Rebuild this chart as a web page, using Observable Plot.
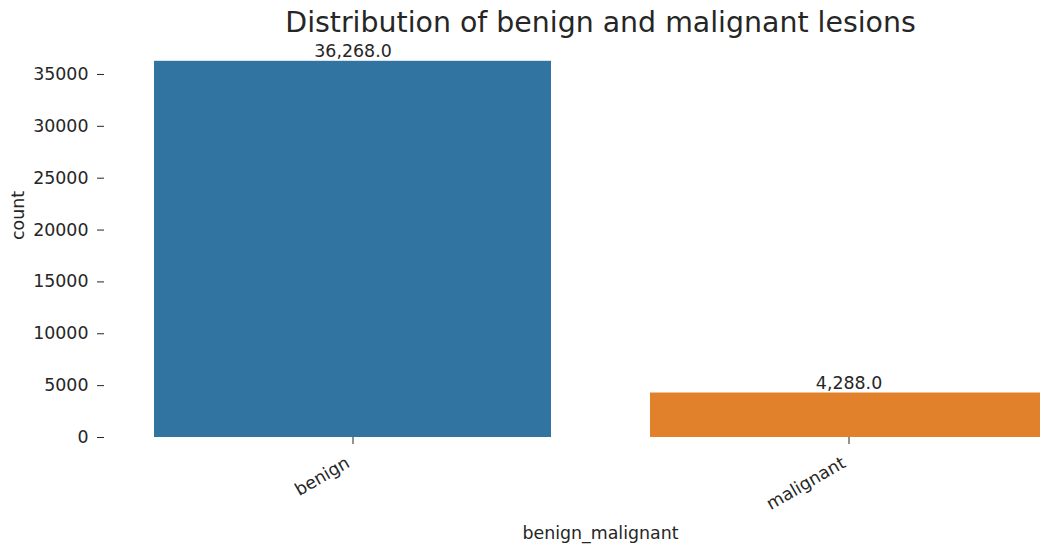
<!DOCTYPE html>
<html><head><meta charset="utf-8">
<script src="https://cdn.jsdelivr.net/npm/d3@7"></script>
<script src="https://cdn.jsdelivr.net/npm/@observablehq/plot@0.6"></script>
<style>body{margin:0;background:#fff}</style>
</head><body><div id="chart"></div>
<script>
const categories = ["benign", "malignant"];
const counts = [36268, 4288];
const yTicks = [0, 5000, 10000, 15000, 20000, 25000, 30000, 35000];
const titleText = "Distribution of benign and malignant lesions";
const xLabel = "benign_malignant";
const yLabel = "count";
const palette = ["#3274a1", "#e1812c"];

const data = categories.map((c, i) => ({category: c, count: counts[i]}));
const FS = 17.4;
const ink = "#262626";
const chart = Plot.plot({
  width: 1040, height: 547,
  marginTop: 42, marginBottom: 110, marginLeft: 104, marginRight: -56,
  style: {fontFamily: "DejaVu Sans", fontSize: FS + "px", color: ink, background: "#fff"},
  x: {domain: categories, paddingInner: 0.2, paddingOuter: 0.1, label: null},
  y: {domain: [0, d3.max(counts) * 1.05], label: null},
  color: {domain: categories, range: palette},
  marks: [
    Plot.barY(data, {x: "category", y: "count", fill: "category"}),
    Plot.text(data, {x: "category", y: "count", text: d => d3.format(",.1f")(d.count), lineAnchor: "bottom", dy: -4, fill: ink}),
    Plot.axisY({ticks: yTicks, tickFormat: d3.format("d"), tickSize: 7, tickPadding: 9, label: null}),
    Plot.axisX({tickSize: 7, tickFormat: () => "", label: null}),
    Plot.axisX({tickSize: 0, tickPadding: 24, tickRotate: -30, textAnchor: "end", lineAnchor: "middle", dx: -5, label: null}),
    Plot.text([titleText], {frameAnchor: "top", dy: -10.5, lineAnchor: "bottom", fontSize: 28.4, fill: ink}),
    Plot.text([yLabel], {frameAnchor: "left", dx: -86, rotate: -90, fill: ink}),
    Plot.text([xLabel], {frameAnchor: "bottom", dy: 101, lineAnchor: "bottom", fill: ink})
  ]
});
document.getElementById("chart").appendChild(chart);
</script>
</body></html>
